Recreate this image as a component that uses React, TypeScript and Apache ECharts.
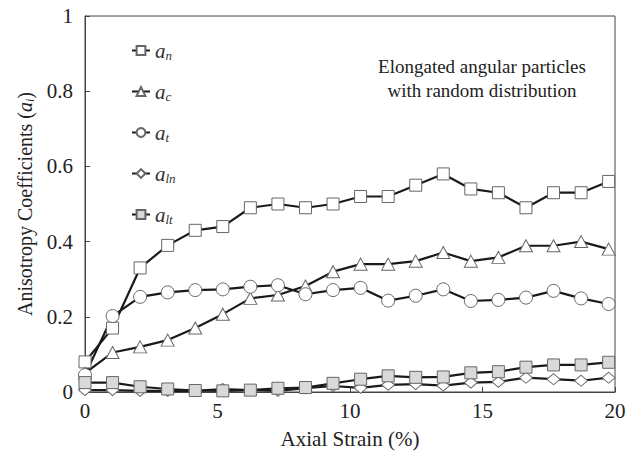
import React, { useEffect, useRef, useState } from "react";
import * as echarts from "echarts";

// Axial strain (%) at each measurement step
const strain = [0, 1.04, 2.08, 3.12, 4.16, 5.2, 6.24, 7.28, 8.32, 9.36, 10.4, 11.44, 12.48, 13.52, 14.56, 15.6, 16.64, 17.68, 18.72, 19.76];

// Anisotropy coefficients
const aN = [0.08, 0.17, 0.33, 0.39, 0.43, 0.44, 0.49, 0.5, 0.49, 0.5, 0.52, 0.52, 0.55, 0.58, 0.54, 0.53, 0.49, 0.53, 0.53, 0.56];
const aC = [0.05, 0.105, 0.12, 0.138, 0.17, 0.207, 0.249, 0.258, 0.282, 0.32, 0.34, 0.34, 0.348, 0.371, 0.348, 0.358, 0.389, 0.389, 0.4, 0.38];
const aT = [0.045, 0.202, 0.253, 0.265, 0.271, 0.273, 0.28, 0.284, 0.26, 0.271, 0.277, 0.243, 0.256, 0.273, 0.242, 0.245, 0.251, 0.269, 0.249, 0.234];
const aLn = [0.005, 0.005, 0.003, 0.003, 0.003, 0.008, 0.005, 0.003, 0.01, 0.016, 0.011, 0.019, 0.021, 0.017, 0.025, 0.027, 0.038, 0.034, 0.03, 0.038];
const aLt = [0.025, 0.025, 0.014, 0.008, 0.004, 0.003, 0.005, 0.01, 0.012, 0.023, 0.034, 0.043, 0.039, 0.04, 0.051, 0.054, 0.066, 0.072, 0.072, 0.079];

const seriesNames = ["a_n", "a_c", "a_t", "a_ln", "a_lt"];
const xTicks = [0, 5, 10, 15, 20];
const yTicks = [0, 0.2, 0.4, 0.6, 0.8, 1];

const FONT = "Liberation Serif";

const pairs = (ys: number[]) => strain.map((x, i) => [x, ys[i]]);

function buildOption() {
  const markerBorder = { borderColor: "#666", borderWidth: 1 };
  const lineStyle = { color: "#1a1a1a", width: 2.2 };

  const makeSeries = (name: string, ys: number[], symbol: string, size: any, fill: string) => ({
    name,
    type: "line",
    data: pairs(ys),
    symbol,
    symbolSize: size,
    showAllSymbol: true,
    lineStyle,
    itemStyle: { color: fill, ...markerBorder },
    emphasis: { disabled: true },
  });

  const subRich = {
    a: { fontFamily: FONT, fontStyle: "italic", fontSize: 21, color: "#333" },
    s: { fontFamily: FONT, fontStyle: "italic", fontSize: 13, color: "#333", padding: [10, 0, 0, 0] },
  };

  return {
    animation: false,
    backgroundColor: "#fff",
    grid: { left: 85, top: 16, width: 530, height: 376, show: true, borderColor: "#444", borderWidth: 1, backgroundColor: "transparent" },
    xAxis: {
      type: "value", min: 0, max: 20, interval: 5,
      name: "Axial Strain (%)", nameLocation: "middle", nameGap: 36,
      nameTextStyle: { fontFamily: FONT, fontSize: 21, color: "#222" },
      axisLine: { show: true, lineStyle: { color: "#444", width: 1 } },
      axisTick: { show: true, inside: true, length: 5, lineStyle: { color: "#444" } },
      axisLabel: { fontFamily: FONT, fontSize: 21, color: "#222", margin: 8, formatter: (v: number) => (xTicks.includes(v) ? String(v) : "") },
      splitLine: { show: false },
    },
    yAxis: {
      type: "value", min: 0, max: 1, interval: 0.2,
      name: "Anisotropy Coefficients ({a|a}{s|i})", nameLocation: "middle", nameRotate: 90, nameGap: 48,
      nameTextStyle: {
        fontFamily: FONT, fontSize: 20, color: "#222",
        rich: {
          a: { fontFamily: FONT, fontStyle: "italic", fontSize: 20, color: "#222" },
          s: { fontFamily: FONT, fontStyle: "italic", fontSize: 12, color: "#222", padding: [9, 0, 0, 0] },
        },
      },
      axisLine: { show: true, lineStyle: { color: "#444", width: 1 } },
      axisTick: { show: true, inside: true, length: 5, lineStyle: { color: "#444" } },
      axisLabel: {
        fontFamily: FONT, fontSize: 21, color: "#222", margin: 12,
        formatter: (v: number) => {
          const t = yTicks.find((y) => Math.abs(y - v) < 1e-9);
          return t === undefined ? "" : String(Number(t.toFixed(1)));
        },
      },
      splitLine: { show: false },
    },
    legend: {
      orient: "vertical", left: 126, top: 35, itemWidth: 18, itemHeight: 11, itemGap: 19,
      data: seriesNames,
      formatter: (name: string) => `{a|a}{s|${name.slice(2)}}`,
      textStyle: { rich: subRich },
    },
    graphic: [
      {
        type: "text", x: 482, y: 54,
        style: { text: "Elongated angular particles\nwith random distribution", fontFamily: FONT, fontSize: 19, lineHeight: 24, fill: "#222", align: "center" },
      },
    ],
    series: [
      makeSeries(seriesNames[0], aN, "rect", 12, "#fff"),
      makeSeries(seriesNames[1], aC, "triangle", [13, 12], "#fff"),
      makeSeries(seriesNames[2], aT, "circle", 13, "#fff"),
      makeSeries(seriesNames[3], aLn, "diamond", [13, 11], "#fff"),
      makeSeries(seriesNames[4], aLt, "rect", 12, "#d9d9d9"),
    ],
  };
}

export default function App() {
  const ref = useRef<HTMLDivElement>(null);
  const [spacer, setSpacer] = useState("");

  useEffect(() => {
    if (!ref.current) return;
    const chart = echarts.init(ref.current, undefined, { renderer: "svg" });
    chart.setOption(buildOption());
    // Force a relayout after the first render so the serif face is used everywhere
    setSpacer("\u00a0\n\u00a0");
    const fonts = (document as any).fonts;
    if (fonts && fonts.load) {
      fonts.load(`21px "${FONT}"`).then(() => {
        if (!chart.isDisposed()) chart.setOption(buildOption(), true);
      }).catch(() => {});
    }
    return () => chart.dispose();
  }, []);

  return (
    <div style={{ position: "fixed", left: 0, top: 0, width: 635, height: 456 }}>
      <div ref={ref} style={{ width: 635, height: 456, background: "#fff" }} />
      <pre
        style={{
          position: "absolute", left: 0, top: 0, width: 10, margin: 0,
          fontSize: 8, fontFamily: "DejaVu Sans Mono", color: "transparent", pointerEvents: "none",
        }}
      >
        {spacer}
      </pre>
    </div>
  );
}
